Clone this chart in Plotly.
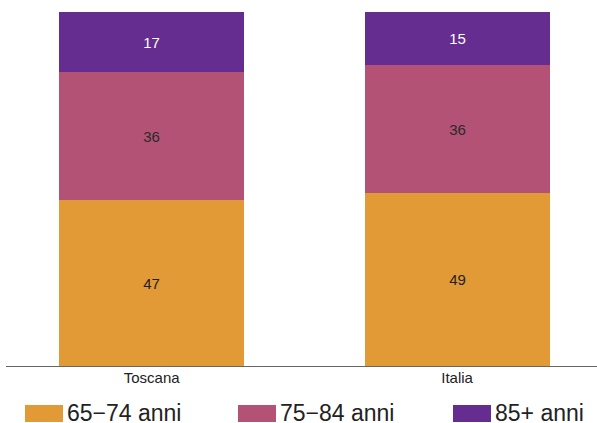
import plotly.graph_objects as go

categories = ["Toscana", "Italia"]
series_names = ["65−74 anni", "75−84 anni", "85+ anni"]
v_65_74 = [47, 49]
v_75_84 = [36, 36]
v_85 = [17, 15]
values = [v_65_74, v_75_84, v_85]
colors = ["#E29A36", "#B35274", "#652D90"]
text_colors = ["#222222", "#2a2a2a", "#ffffff"]

FONT = "Liberation Sans, Arial, sans-serif"
W, H = 597, 423
ml, mr, mt, mb = 6, 0, 12, 57
plot_w = W - ml - mr
plot_h = H - mt - mb

fig = go.Figure()
for name, vals, col, tcol in zip(series_names, values, colors, text_colors):
    fig.add_trace(go.Bar(
        x=categories, y=vals, name=name,
        marker=dict(color=col, line=dict(width=0)),
        width=0.605,
        text=vals, texttemplate="%{text}",
        textposition="inside", insidetextanchor="middle",
        textfont=dict(family=FONT, size=15, color=tcol),
        showlegend=False,
    ))

# manual legend (pixel -> paper conversion)
def px_x(p):
    return (p - ml) / plot_w

def px_y(p):
    return (H - mb - p) / plot_h

legend_box_x = [25, 238, 453]
shapes = []
annotations = []
for name, col, bx in zip(series_names, colors, legend_box_x):
    shapes.append(dict(type="rect", xref="paper", yref="paper",
                       x0=px_x(bx), x1=px_x(bx + 38), y0=px_y(422), y1=px_y(405),
                       fillcolor=col, line=dict(width=0)))
    annotations.append(dict(xref="paper", yref="paper", x=px_x(bx + 41), y=px_y(413),
                            text=name, showarrow=False, xanchor="left", yanchor="middle",
                            borderpad=0,
                            font=dict(family=FONT, size=23, color="#222222")))

fig.update_layout(
    barmode="stack",
    width=W, height=H,
    margin=dict(l=ml, r=mr, t=mt, b=mb, pad=0),
    paper_bgcolor="white", plot_bgcolor="white",
    font=dict(family=FONT),
    bargap=0,
    xaxis=dict(type="category", range=[-0.477, 1.458], showline=True,
               linecolor="#666666", linewidth=1, showgrid=False, zeroline=False,
               ticks="", ticklabelstandoff=-2,
               tickfont=dict(family=FONT, size=15, color="#222222")),
    yaxis=dict(range=[0, 100], visible=False, showgrid=False, zeroline=False),
    shapes=shapes, annotations=annotations,
)

fig.write_html("out.html", config={"displayModeBar": False},
               post_script="document.body.style.margin='0px';document.body.style.overflow='hidden';")
